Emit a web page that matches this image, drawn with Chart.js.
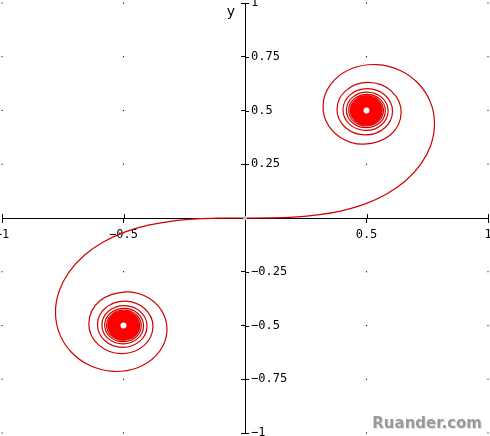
<!DOCTYPE html>
<html>
<head>
<meta charset="utf-8">
<script src="https://cdn.jsdelivr.net/npm/chart.js@4.4.1/dist/chart.umd.min.js"></script>
<style>
  html, body { margin: 0; padding: 0; background: #fff; }
  #wrap { width: 490px; height: 436px; }
</style>
</head>
<body>
<div id="wrap"><canvas id="chart" width="490" height="436"></canvas></div>
<script>
// Cornu spiral, points (origin -> upper right eye)
const spiralUpperX = [0, 0.1000, 0.1999, 0.2994, 0.3975, 0.4923, 0.5811, 0.6597, 0.7228, 0.7648, 0.7799, 0.7638, 0.7154, 0.6386, 0.5431, 0.4453,
  0.3655, 0.3238, 0.3336, 0.3944, 0.4882, 0.5982, 0.6426, 0.6024, 0.5076, 0.4160, 0.3788, 0.4132, 0.4948, 0.5745, 0.6070, 0.5765, 0.5038,
  0.4325, 0.4033, 0.4309, 0.4970, 0.5621, 0.5889, 0.5634, 0.5024, 0.4422, 0.4174, 0.4411, 0.4980, 0.5543, 0.5775, 0.5552, 0.5017,
  0.4487, 0.4268, 0.4479, 0.4986, 0.5488, 0.5696, 0.5495, 0.5013, 0.4534, 0.4336, 0.4528, 0.4989, 0.5447, 0.5636, 0.5452, 0.5010,
  0.4571, 0.4389, 0.4565, 0.4991, 0.5414, 0.5589, 0.5419, 0.5006];
const spiralUpperY = [0, 0.0005, 0.0042, 0.0141, 0.0334, 0.0647, 0.1105, 0.1721, 0.2493, 0.3398, 0.4383, 0.5365, 0.6234, 0.6863, 0.7135, 0.6975,
  0.6389, 0.5492, 0.4509, 0.3733, 0.3434, 0.3861, 0.4903, 0.5903, 0.6307, 0.5937, 0.5062, 0.4212, 0.3866, 0.4188, 0.4956, 0.5707, 0.6015,
  0.5726, 0.5034, 0.4354, 0.4074, 0.4339, 0.4973, 0.5599, 0.5856, 0.5611, 0.5022, 0.4440, 0.4200, 0.4430, 0.4982, 0.5528, 0.5753,
  0.5536, 0.5016, 0.4500, 0.4287, 0.4492, 0.4986, 0.5477, 0.5679, 0.5483, 0.5012, 0.4544, 0.4351, 0.4538, 0.4990, 0.5438, 0.5623,
  0.5443, 0.5010, 0.4579, 0.4400, 0.4573, 0.4991, 0.5407, 0.5579];

// origin -> lower left eye
const spiralLowerX = [0, -0.1000, -0.1999, -0.2994, -0.3975, -0.4923, -0.5811, -0.6597, -0.7228, -0.7648, -0.7799, -0.7638, -0.7154, -0.6386, -0.5431, -0.4453,
  -0.3655, -0.3238, -0.3336, -0.3944, -0.4882, -0.5982, -0.6426, -0.6024, -0.5076, -0.4160, -0.3788, -0.4132, -0.4948, -0.5745, -0.6070, -0.5765, -0.5038,
  -0.4325, -0.4033, -0.4309, -0.4970, -0.5621, -0.5889, -0.5634, -0.5024, -0.4422, -0.4174, -0.4411, -0.4980, -0.5543, -0.5775, -0.5552, -0.5017,
  -0.4487, -0.4268, -0.4479, -0.4986, -0.5488, -0.5696, -0.5495, -0.5013, -0.4534, -0.4336, -0.4528, -0.4989, -0.5447, -0.5636, -0.5452, -0.5010,
  -0.4571, -0.4389, -0.4565, -0.4991, -0.5414, -0.5589, -0.5419, -0.5006];
const spiralLowerY = [0, -0.0005, -0.0042, -0.0141, -0.0334, -0.0647, -0.1105, -0.1721, -0.2493, -0.3398, -0.4383, -0.5365, -0.6234, -0.6863, -0.7135, -0.6975,
  -0.6389, -0.5492, -0.4509, -0.3733, -0.3434, -0.3861, -0.4903, -0.5903, -0.6307, -0.5937, -0.5062, -0.4212, -0.3866, -0.4188, -0.4956, -0.5707, -0.6015,
  -0.5726, -0.5034, -0.4354, -0.4074, -0.4339, -0.4973, -0.5599, -0.5856, -0.5611, -0.5022, -0.4440, -0.4200, -0.4430, -0.4982, -0.5528, -0.5753,
  -0.5536, -0.5016, -0.4500, -0.4287, -0.4492, -0.4986, -0.5477, -0.5679, -0.5483, -0.5012, -0.4544, -0.4351, -0.4538, -0.4990, -0.5438, -0.5623,
  -0.5443, -0.5010, -0.4579, -0.4400, -0.4573, -0.4991, -0.5407, -0.5579];

// the two eyes the spiral winds into
const eyeX = [0.5, -0.5];
const eyeY = [0.5, -0.5];

// start point
const startX = [0];
const startY = [0];

// dotted grid positions
const gridX = [-1, -0.5, 0.5, 1];
const gridY = [-1, -0.75, -0.5, -0.25, 0.25, 0.5, 0.75, 1];

const zip = (xs, ys) => xs.map((v, i) => ({ x: v, y: ys[i] }));
const gridDots = [];
gridX.forEach((gx) => gridY.forEach((gy) => gridDots.push({ x: gx, y: gy })));

const fmt = (v) => String(v).replace('-', '\u2212');
const LABEL_FONT = '"DejaVu Sans Mono", monospace';
const RED = '#d00000';

const overlay = {
  id: 'overlay',
  afterDraw(chart) {
    const { ctx, scales: { x, y } } = chart;
    const ax = x.getPixelForValue(0);
    const ay = y.getPixelForValue(0);
    ctx.save();
    // other half of the crossing tick marks
    ctx.strokeStyle = '#000';
    ctx.lineWidth = 1;
    ctx.beginPath();
    x.ticks.forEach((t) => {
      if (t.value === 0) return;
      const px = Math.round(x.getPixelForValue(t.value)) + 0.5;
      ctx.moveTo(px, ay - 4);
      ctx.lineTo(px, ay);
    });
    y.ticks.forEach((t) => {
      if (t.value === 0) return;
      const py = Math.round(y.getPixelForValue(t.value)) + 0.5;
      ctx.moveTo(ax, py);
      ctx.lineTo(ax + 4, py);
    });
    ctx.stroke();
    // y tick labels on the right of the axis
    ctx.fillStyle = '#000';
    ctx.font = '12px ' + LABEL_FONT;
    ctx.textAlign = 'left';
    ctx.textBaseline = 'middle';
    y.ticks.forEach((t) => {
      if (t.value === 0) return;
      ctx.fillText(fmt(t.value), ax + 6, y.getPixelForValue(t.value));
    });
    // axis name
    ctx.font = '14px "DejaVu Sans"';
    ctx.textAlign = 'center';
    ctx.fillText('y', ax - 14, y.top + 9);
    // watermark
    ctx.font = 'bold 15px "DejaVu Sans"';
    ctx.textAlign = 'right';
    ctx.fillStyle = '#e2e2e2';
    ctx.fillText('Ruander.com', chart.width - 7, 425);
    ctx.fillStyle = '#9a9a9a';
    ctx.fillText('Ruander.com', chart.width - 8, 424);
    ctx.restore();
  },
};

new Chart(document.getElementById('chart'), {
  type: 'scatter',
  data: {
    datasets: [
      { data: zip(startX, startY), pointRadius: 2, pointBackgroundColor: '#9fdcdc', pointBorderWidth: 0, order: 0 },
      { data: zip(eyeX, eyeY), pointRadius: 3, pointBackgroundColor: '#fff', pointBorderWidth: 0, order: 1 },
      { data: zip(eyeX, eyeY), pointRadius: 15, pointBackgroundColor: '#ff0000', pointBorderWidth: 0, order: 2 },
      { data: zip(spiralUpperX, spiralUpperY), showLine: true, borderColor: RED, borderWidth: 1.2, tension: 0.38, pointRadius: 0, order: 3 },
      { data: zip(spiralLowerX, spiralLowerY), showLine: true, borderColor: RED, borderWidth: 1.2, tension: 0.38, pointRadius: 0, order: 3 },
      { data: gridDots, pointRadius: 0.8, pointStyle: 'rect', pointBackgroundColor: '#000', pointBorderWidth: 0, clip: false, order: 4 },
    ],
  },
  options: {
    responsive: false,
    animation: false,
    layout: { autoPadding: false, padding: { left: 2, right: 2, top: 3, bottom: 3 } },
    plugins: { legend: { display: false }, tooltip: { enabled: false } },
    scales: {
      x: {
        type: 'linear',
        min: -1,
        max: 1,
        position: { y: 0 },
        border: { color: '#000', width: 1 },
        grid: { drawOnChartArea: false, drawTicks: true, tickLength: 4, color: '#000' },
        ticks: {
          stepSize: 0.5,
          autoSkip: false,
          maxRotation: 0,
          padding: 6,
          color: '#000',
          font: { family: LABEL_FONT, size: 12 },
          callback: (v) => (v === 0 ? '' : fmt(v)),
        },
        afterFit(scale) { scale.paddingLeft = 0; scale.paddingRight = 0; },
      },
      y: {
        type: 'linear',
        min: -1,
        max: 1,
        position: { x: 0 },
        border: { color: '#000', width: 1 },
        grid: { drawOnChartArea: false, drawTicks: true, tickLength: 4, color: '#000' },
        ticks: { stepSize: 0.25, display: false },
        afterFit(scale) { scale.paddingTop = 0; scale.paddingBottom = 0; },
      },
    },
  },
  plugins: [overlay],
});
</script>
</body>
</html>
